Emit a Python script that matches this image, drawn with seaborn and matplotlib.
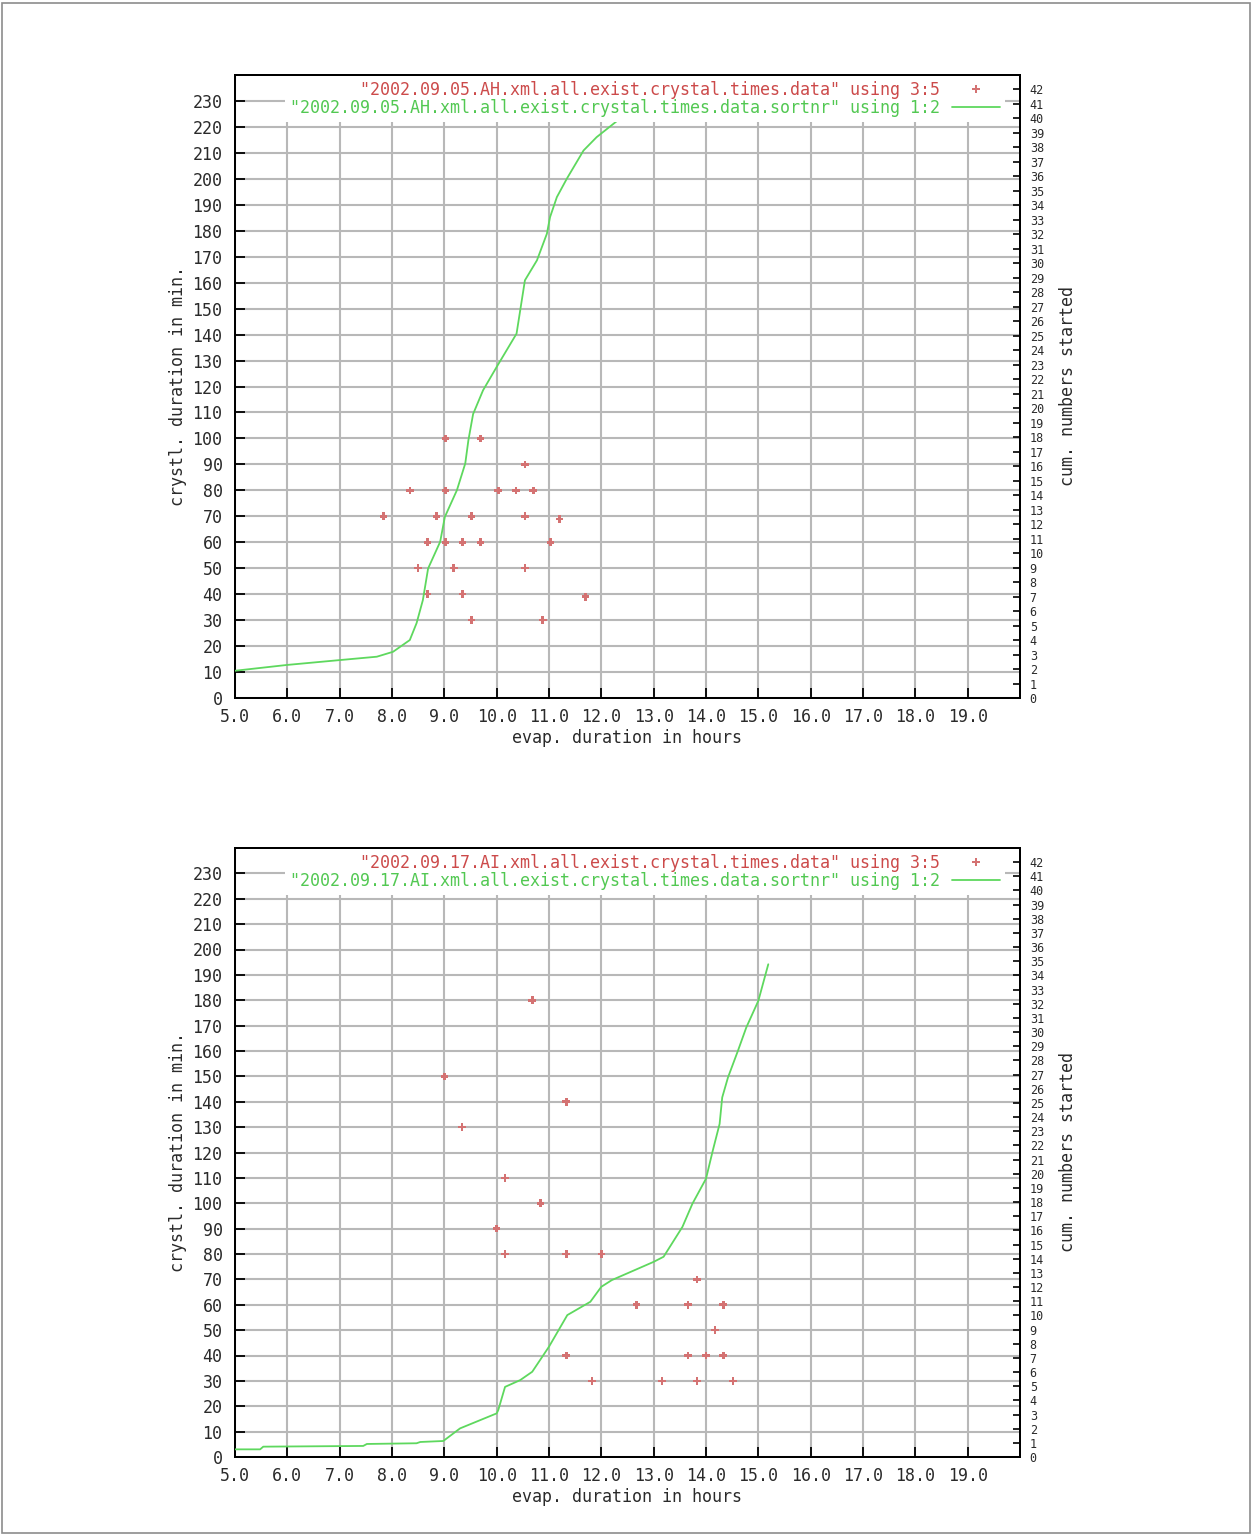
import numpy as np
import pandas as pd
import matplotlib
matplotlib.use("Agg")
import matplotlib.pyplot as plt
from matplotlib.lines import Line2D
from matplotlib.patches import Rectangle
import seaborn as sns

# ---- run 2002.09.05.AH : crystallisation time vs. evaporation time ----
evap_hours_ah = [9.02, 9.69, 10.54, 8.34, 9.02, 10.03, 10.37, 10.70, 7.84, 8.85,
                 9.52, 10.54, 11.20, 8.68, 9.02, 9.35, 9.69, 11.03, 8.50, 9.18,
                 10.54, 8.68, 9.35, 11.70, 9.52, 10.88]
cryst_min_ah = [100, 100, 90, 80, 80, 80, 80, 80, 70, 70,
                70, 70, 69, 60, 60, 60, 60, 60, 50, 50,
                50, 40, 40, 39, 30, 30]
# cumulative number of runs started (sorted)
sorted_hours_ah = [5.0, 5.99, 7.01, 7.71, 8.02, 8.34, 8.47, 8.59, 8.69, 8.92,
                   9.01, 9.24, 9.40, 9.46, 9.55, 9.74, 10.0, 10.38, 10.45, 10.54,
                   10.77, 10.96, 11.02, 11.15, 11.34, 11.66, 11.91, 12.36]
cum_started_ah = [1.88, 2.28, 2.62, 2.85, 3.19, 4.0, 5.17, 6.76, 8.94, 10.78,
                  12.50, 14.34, 16.19, 17.8, 19.6, 21.24, 22.85, 25.15, 26.76, 28.83,
                  30.21, 32.05, 33.19, 34.57, 35.84, 37.79, 38.71, 40.0]

# ---- run 2002.09.17.AI ----
evap_hours_ai = [10.68, 9.0, 11.33, 9.34, 10.16, 10.84, 10.0, 10.16, 11.33, 12.0,
                 13.83, 12.67, 13.66, 14.33, 14.17, 11.33, 13.66, 14.0, 14.33, 11.82,
                 13.16, 13.83, 14.52]
cryst_min_ai = [180, 150, 140, 130, 110, 100, 90, 80, 80, 80,
                70, 60, 60, 60, 50, 40, 40, 40, 40, 30,
                30, 30, 30]
sorted_hours_ai = [5.0, 5.48, 5.54, 7.45, 7.52, 8.47, 8.54, 8.98, 9.30, 10.0,
                   10.03, 10.16, 10.45, 10.68, 11.0, 11.35, 11.79, 12.0, 12.2, 13.0,
                   13.19, 13.55, 13.74, 14.0, 14.13, 14.26, 14.31, 14.42, 14.61, 14.77,
                   15.0, 15.19]
cum_started_ai = [0.54, 0.54, 0.73, 0.78, 0.92, 0.97, 1.06, 1.13, 2.02, 3.08,
                  3.31, 4.95, 5.43, 6.02, 7.79, 10.02, 10.96, 12.02, 12.49, 13.78,
                  14.14, 16.25, 17.88, 19.65, 21.64, 23.52, 25.39, 26.80, 28.68, 30.33,
                  32.21, 34.79]

x_tick_values = np.arange(5.0, 20.0, 1.0)
x_tick_labels = [f"{v:.1f}" for v in x_tick_values]
y_tick_values = np.arange(0, 240, 10)
y2_tick_values = np.arange(0, 43, 1)

PT_COLOR = "#d47272"
PT_TEXT = "#cc4a4a"
LINE_COLOR = "#5ed85e"
LINE_TEXT = "#52c852"
TEXT_COLOR = "#2a2a2a"
FS = 12
FS_Y2 = 8.5

sns.set_theme(style="white")
plt.rcParams["font.family"] = ["DejaVu Sans Mono", "DejaVu Sans"]

fig = plt.figure(figsize=(12.53, 15.35), dpi=100)
fig.patch.set_facecolor("white")

W, H = 1253.0, 1535.0
ax_top = fig.add_axes([235 / W, 1 - 698 / H, 785 / W, 623 / H])
ax_bot = fig.add_axes([235 / W, 1 - 1457 / H, 785 / W, 609 / H])


def draw_panel(ax, pts_x, pts_y, cum_x, cum_y, tag, height_px):
    pts = pd.DataFrame({"hours": pts_x, "minutes": pts_y})
    cum = pd.DataFrame({"hours": cum_x, "count": cum_y})

    ax.set_facecolor("white")
    sns.scatterplot(data=pts, x="hours", y="minutes", ax=ax, marker="P", s=30,
                    color=PT_COLOR, edgecolor="none", linewidth=0, legend=False,
                    zorder=3)
    ax.set_xlim(5, 20)
    ax.set_ylim(0, 240)
    ax.set_xticks(x_tick_values)
    ax.set_xticklabels(x_tick_labels)
    ax.set_yticks(y_tick_values)
    ax.grid(True, color="#b8b8b8", linewidth=1.5)
    ax.set_axisbelow(True)
    ax.tick_params(axis="x", direction="in", bottom=True, top=True, length=7,
                   width=1.3, pad=7, labelsize=FS, color="black",
                   labelcolor=TEXT_COLOR)
    ax.tick_params(axis="y", direction="in", left=True, right=False, length=7,
                   width=1.3, pad=9, labelsize=FS, color="black",
                   labelcolor=TEXT_COLOR)
    ax.set_xlabel("evap. duration in hours", fontsize=FS, color=TEXT_COLOR)
    ax.xaxis.set_label_coords(0.5, -40 / height_px)
    ax.xaxis.label.set_va("center")
    ax.set_ylabel("crystl. duration in min.", fontsize=FS, color=TEXT_COLOR)
    ax.yaxis.set_label_coords(-57 / 785, 0.5)
    ax.yaxis.label.set_va("center")

    ax2 = ax.twinx()
    sns.lineplot(data=cum, x="hours", y="count", ax=ax2, sort=False,
                 estimator=None, color=LINE_COLOR, linewidth=1.3, zorder=3)
    ax2.set_ylim(0, 43)
    ax2.set_yticks(y2_tick_values)
    ax2.grid(False)
    ax2.tick_params(axis="y", direction="in", right=True, length=5, width=1.2,
                    pad=7, labelsize=FS_Y2, color="black", labelcolor=TEXT_COLOR)
    ax2.set_ylabel("cum. numbers started", fontsize=FS, color=TEXT_COLOR)
    ax2.yaxis.set_label_coords(1 + 48 / 785, 0.5)
    ax2.yaxis.label.set_va("center")
    ax2.set_xlabel("")

    for a in (ax, ax2):
        for sp in a.spines.values():
            sp.set_visible(True)
            sp.set_color("black")
            sp.set_linewidth(1.4)

    handles = [
        Line2D([], [], marker="P", linestyle="none", color=PT_COLOR,
               markersize=6, markeredgewidth=0),
        Line2D([], [], color=LINE_COLOR, linewidth=1.3),
    ]
    labels = [
        f'"2002.09.{tag}.xml.all.exist.crystal.times.data" using 3:5',
        f'"2002.09.{tag}.xml.all.exist.crystal.times.data.sortnr" using 1:2',
    ]
    leg = ax2.legend(handles, labels, loc="upper right",
                     bbox_to_anchor=(1 - 14 / 785, 1.0), markerfirst=False,
                     frameon=True, fancybox=False, framealpha=1.0,
                     facecolor="white", edgecolor="white", fontsize=FS,
                     handlelength=2.9, handletextpad=0.7, labelspacing=0.0,
                     borderpad=0.3, borderaxespad=0.05)
    leg.get_frame().set_linewidth(0)
    for txt, col in zip(leg.get_texts(), (PT_TEXT, LINE_TEXT)):
        txt.set_color(col)
    return ax2


draw_panel(ax_top, evap_hours_ah, cryst_min_ah, sorted_hours_ah, cum_started_ah,
           "05.AH", 623)
draw_panel(ax_bot, evap_hours_ai, cryst_min_ai, sorted_hours_ai, cum_started_ai,
           "17.AI", 609)

# thin page border
fig.patches.append(Rectangle((2 / W, 2 / H), 1 - 5 / W, 1 - 5 / H,
                             transform=fig.transFigure, fill=False,
                             edgecolor="#8c8c8c", linewidth=1.2))

fig.savefig("out.png", dpi=100, facecolor="white")
